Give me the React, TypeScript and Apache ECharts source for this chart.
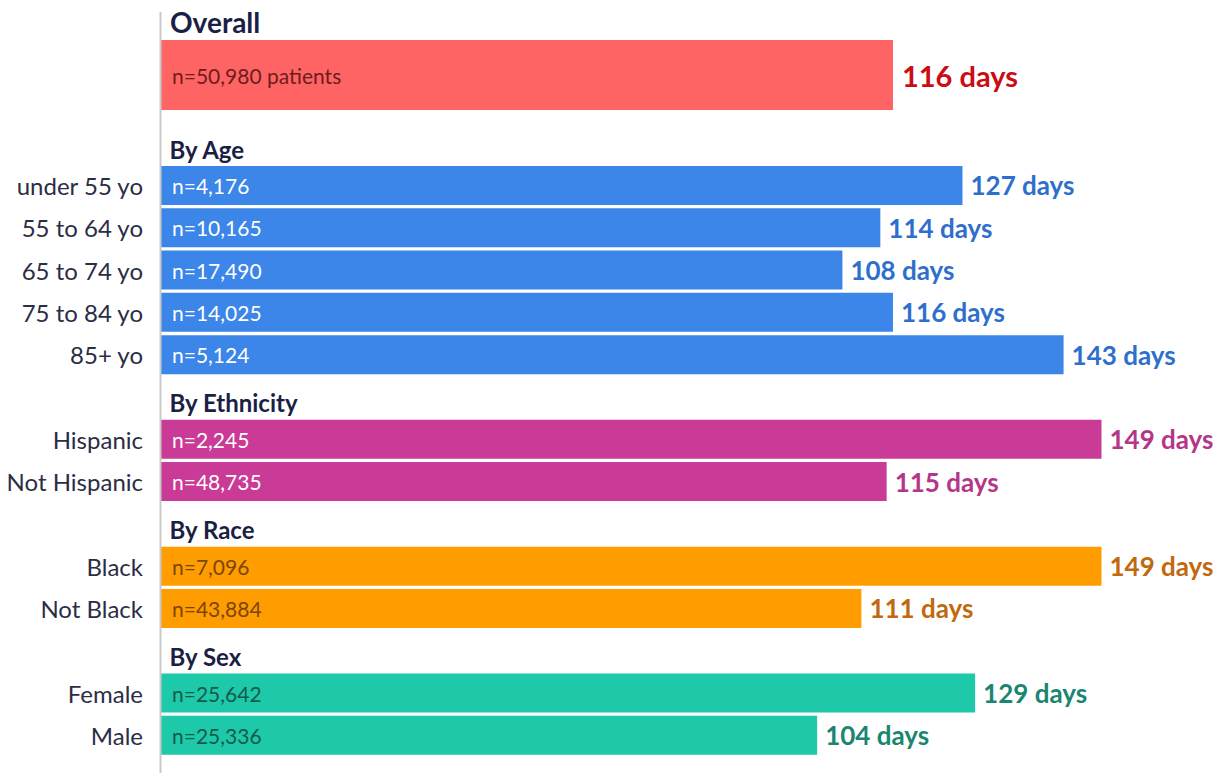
import React, { useEffect, useRef } from "react";
import * as echarts from "echarts";

const overallLabel = "Overall";
const overallDays = 116;
const overallN = 50980;

const groupNames = ["By Age", "By Ethnicity", "By Race", "By Sex"];

const ageLabels = ["under 55 yo", "55 to 64 yo", "65 to 74 yo", "75 to 84 yo", "85+ yo"];
const ageDays = [127, 114, 108, 116, 143];
const ageN = [4176, 10165, 17490, 14025, 5124];

const ethnicityLabels = ["Hispanic", "Not Hispanic"];
const ethnicityDays = [149, 115];
const ethnicityN = [2245, 48735];

const raceLabels = ["Black", "Not Black"];
const raceDays = [149, 111];
const raceN = [7096, 43884];

const sexLabels = ["Female", "Male"];
const sexDays = [129, 104];
const sexN = [25642, 25336];

const FONT = "Lato, 'Noto Sans', sans-serif";

const palette = [
  { bar: "#3b86e8", inner: "#ffffff", value: "#2f6fcc" },
  { bar: "#c93b96", inner: "#ffffff", value: "#b53688" },
  { bar: "#ff9c00", inner: "#7a4508", value: "#c0690f" },
  { bar: "#1dc9a9", inner: "#145a4c", value: "#1a8671" },
];
const overallColors = { bar: "#ff6464", inner: "#6e1c1c", value: "#cc0c14" };

export default function App() {
  const ref = useRef<HTMLDivElement>(null);

  useEffect(() => {
    if (!ref.current) return;
    const chart = echarts.init(ref.current, null, { renderer: "svg" });

    const groups = [
      { labels: ageLabels, days: ageDays, n: ageN },
      { labels: ethnicityLabels, days: ethnicityDays, n: ethnicityN },
      { labels: raceLabels, days: raceDays, n: raceN },
      { labels: sexLabels, days: sexDays, n: sexN },
    ];

    const categories: string[] = [];
    const barData: any[] = [];
    const nData: any[] = [];
    const headerData: any[] = [];
    groups.forEach((g, gi) => {
      const c = palette[gi];
      categories.push(groupNames[gi]);
      barData.push("-");
      nData.push("-");
      headerData.push({ value: [0, groupNames[gi]], name: groupNames[gi] });
      g.labels.forEach((lab, i) => {
        categories.push(lab);
        barData.push({
          value: g.days[i],
          itemStyle: { color: c.bar },
          label: { color: c.value },
        });
        nData.push({
          value: g.days[i],
          n: g.n[i],
          label: { color: c.inner },
        });
      });
    });
    const headerSet = new Set(groupNames);

    const xMax = 160;
    const gridLeft = 160;
    const gridRight = 54;

    chart.setOption({
      animation: false,
      title: {
        text: overallLabel,
        left: 165,
        top: 3,
        textStyle: { fontFamily: FONT, fontSize: 28, fontWeight: "bold", color: "#1c1f45" },
      },
      grid: [
        { left: gridLeft, right: gridRight, top: 40, height: 70 },
        { left: gridLeft, right: gridRight, top: 122, height: 634.5 },
      ],
      xAxis: [
        { type: "value", gridIndex: 0, min: 0, max: xMax, show: false },
        { type: "value", gridIndex: 1, min: 0, max: xMax, show: false },
      ],
      yAxis: [
        {
          type: "category",
          gridIndex: 0,
          data: [overallLabel],
          show: false,
        },
        {
          type: "category",
          gridIndex: 1,
          data: categories,
          inverse: true,
          axisLine: { show: false },
          axisTick: { show: false },
          axisLabel: {
            margin: 17,
            fontFamily: FONT,
            fontSize: 24,
            color: "#2b2d45",
            padding: [0, 0, 4, 0],
            formatter: (v: string) => (headerSet.has(v) ? "" : v),
          },
        },
      ],
      graphic: [
        {
          type: "line",
          shape: { x1: 160.5, y1: 12, x2: 160.5, y2: 773 },
          style: { stroke: "#c9c9c9", lineWidth: 2 },
          z: 10,
        },
      ],
      series: [
        {
          type: "bar",
          xAxisIndex: 0,
          yAxisIndex: 0,
          barWidth: 70,
          data: [{ value: overallDays, itemStyle: { color: overallColors.bar } }],
          label: {
            show: true,
            position: "right",
            distance: 9,
            fontFamily: FONT,
            fontSize: 29,
            fontWeight: "bold",
            color: overallColors.value,
            formatter: (p: any) => `${p.value} days`,
          },
        },
        {
          type: "bar",
          xAxisIndex: 0,
          yAxisIndex: 0,
          barWidth: 70,
          barGap: "-100%",
          silent: true,
          itemStyle: { color: "transparent" },
          data: [{ value: overallDays, n: overallN }],
          label: {
            show: true,
            position: "insideLeft",
            distance: 12,
            fontFamily: FONT,
            fontSize: 21,
            color: overallColors.inner,
            formatter: () => `n=${overallN.toLocaleString("en-US")} patients`,
          },
        },
        {
          type: "bar",
          xAxisIndex: 1,
          yAxisIndex: 1,
          barWidth: 39,
          data: barData,
          label: {
            show: true,
            position: "right",
            distance: 8,
            fontFamily: FONT,
            fontSize: 26,
            fontWeight: "bold",
            formatter: (p: any) => `${p.value} days`,
          },
        },
        {
          type: "bar",
          xAxisIndex: 1,
          yAxisIndex: 1,
          barWidth: 39,
          barGap: "-100%",
          silent: true,
          itemStyle: { color: "transparent" },
          data: nData,
          label: {
            show: true,
            position: "insideLeft",
            distance: 12,
            fontFamily: FONT,
            fontSize: 21,
            formatter: (p: any) => `n=${p.data.n.toLocaleString("en-US")}`,
          },
        },
        {
          type: "scatter",
          xAxisIndex: 1,
          yAxisIndex: 1,
          symbolSize: 1,
          itemStyle: { color: "transparent", opacity: 1 },
          silent: true,
          data: headerData,
          label: {
            show: true,
            position: "right",
            distance: 9,
            offset: [0, 6],
            opacity: 1,
            fontFamily: FONT,
            fontSize: 24,
            fontWeight: "bold",
            color: "#1c1f45",
            formatter: (p: any) => p.name,
          },
        },
      ],
    });

    return () => chart.dispose();
  }, []);

  return (
    <div
      ref={ref}
      style={{ position: "absolute", left: 0, top: 0, width: 1225, height: 773, background: "#fff" }}
    />
  );
}
